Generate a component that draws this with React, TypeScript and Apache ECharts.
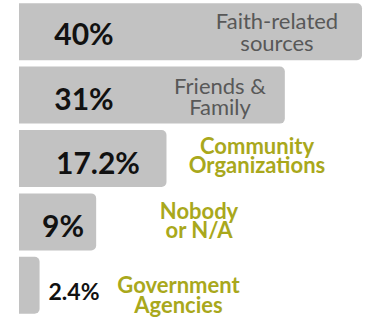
import React, { useEffect, useRef } from "react";
import * as echarts from "echarts";

const categories = [
  "Faith-related\nsources",
  "Friends &\nFamily",
  "Community\nOrganizations",
  "Nobody\nor N/A",
  "Government\nAgencies",
];
const values = [40, 31, 17.2, 9, 2.4];
const valueLabels = ["40%", "31%", "17.2%", "9%", "2.4%"];

// layout / style (not data)
const valueLabelX = [65, 65, 79, 44, 55];
const valueLabelDy = [1, 3, 3, 3, 6];
const valueFontSize = [30, 30, 30, 30, 23];
const catLabelX = [258, 201, 238, 180, 159.5];
const catLabelDy = [0, 1, -3.5, -2, 9];
const catColor = ["#585858", "#585858", "#a9a81c", "#a9a81c", "#a9a81c"];
const catWeight = ["normal", "normal", "bold", "bold", "bold"];
const catLineHeight = [21.5, 21.5, 19.5, 19.5, 19.5];

export default function App() {
  const ref = useRef<HTMLDivElement>(null);
  useEffect(() => {
    if (!ref.current) return;
    const chart = echarts.init(ref.current, undefined, { renderer: "svg" });
    chart.setOption({
      animation: false,
      grid: { left: 19, right: 3, top: -0.5, bottom: -4, containLabel: false },
      xAxis: {
        type: "value",
        min: 0,
        max: 40,
        show: false,
      },
      yAxis: {
        type: "category",
        data: categories,
        inverse: true,
        show: false,
      },
      series: [
        {
          type: "bar",
          barWidth: 57,
          silent: true,
          itemStyle: { color: "#c2c2c2", borderRadius: [0, 5, 5, 0] },
          data: values.map((v, i) => ({
            value: v,
            label: {
              show: true,
              position: [valueLabelX[i], "50%"],
              offset: [0, valueLabelDy[i]],
              align: "center",
              verticalAlign: "middle",
              formatter: valueLabels[i],
              fontFamily: "Lato",
              fontWeight: "bold",
              fontSize: valueFontSize[i],
              color: "#111111",
            },
          })),
        },
        {
          type: "bar",
          barWidth: 57,
          barGap: "-100%",
          silent: true,
          itemStyle: { color: "transparent" },
          data: values.map((v, i) => ({
            value: v,
            label: {
              show: true,
              position: [catLabelX[i], "50%"],
              offset: [0, catLabelDy[i]],
              align: "center",
              verticalAlign: "middle",
              formatter: categories[i],
              fontFamily: "Lato",
              fontWeight: catWeight[i],
              fontSize: 22,
              lineHeight: catLineHeight[i],
              color: catColor[i],
            },
          })),
        },
      ],
    });
    return () => chart.dispose();
  }, []);
  return (
    <div
      ref={ref}
      style={{ position: "fixed", left: 0, top: 0, width: 365, height: 317, background: "#ffffff" }}
    />
  );
}
